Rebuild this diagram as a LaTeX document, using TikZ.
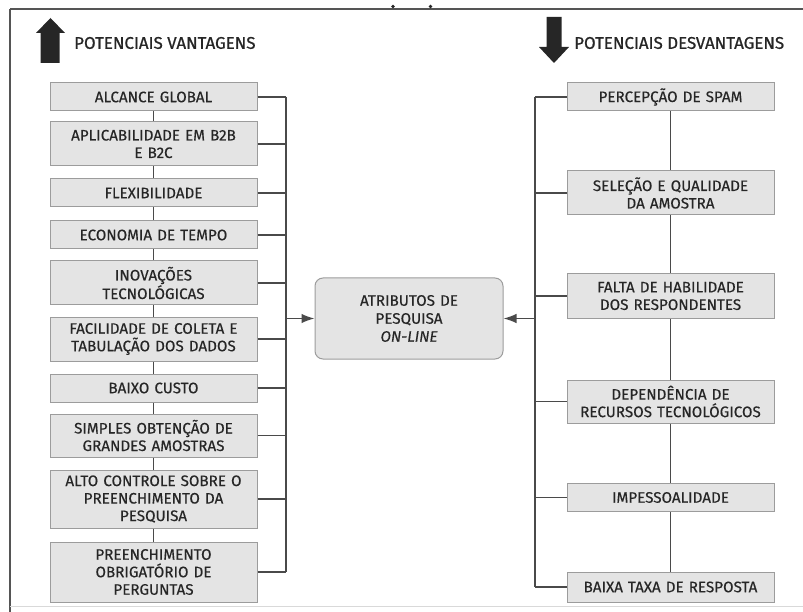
\documentclass[tikz,border=0pt]{standalone}
\usepackage{fontspec}
\setmainfont{Fira Sans}
\newfontfamily\labelfont[FakeBold=0.35]{Fira Sans}
\newfontfamily\headfont[FakeBold=0.9]{Fira Sans}
\usetikzlibrary{arrows.meta}
\definecolor{boxfill}{HTML}{E4E4E4}
\definecolor{boxline}{HTML}{9C9C9C}
\definecolor{ink}{HTML}{262626}
\definecolor{wire}{HTML}{4A4A4A}
\definecolor{frameline}{HTML}{555555}
\begin{document}
\begin{tikzpicture}[x=1pt,y=-1pt,
  item/.style={draw=boxline, fill=boxfill, line width=1pt, minimum width=207pt,
    text width=205pt, align=center, inner sep=0pt, text=ink,
    font=\labelfont\fontsize{15.2}{17.5}\selectfont},
  hub/.style={draw=boxline, fill=boxfill, line width=1pt, rounded corners=8pt,
    minimum width=188pt, minimum height=81pt, text width=184pt, align=center,
    inner sep=0pt, text=ink, font=\labelfont\fontsize{15.2}{18}\selectfont},
  head/.style={anchor=west, inner sep=0pt, text=ink, font=\headfont\fontsize{16.9}{18}\selectfont},
  wire/.style={draw=wire, line width=1.4pt},
  feed/.style={wire, -{Latex[length=13pt,width=9.5pt]}},
  bigarrow/.style={fill=ink, draw=none}]
\useasboundingbox (0,0) rectangle (803,612);

% frame
\draw[frameline, line width=1.8pt] (10,9) -- (803,9);
\draw[frameline, line width=1.4pt] (10,9) -- (10,612);
\draw[black!15, line width=1pt] (10,606.5) -- (803,606.5);
\fill[ink] (393,6.5) circle (1.8pt);
\fill[ink] (430.5,6.5) circle (1.8pt);

% headings
\fill[bigarrow] (36,33) -- (50.5,18) -- (65,33) -- (59.5,33) -- (59.5,63) -- (40.5,63) -- (40.5,33) -- cycle;
\node[head] (hv) at (74,43) {POTENCIAIS VANTAGENS};
\fill[bigarrow] (546.5,17) -- (561.5,17) -- (561.5,47) -- (569,47) -- (554,63) -- (539,47) -- (546.5,47) -- cycle;
\node[head] (hd) at (574,43) {POTENCIAIS DESVANTAGENS};

% advantages
\node[item, minimum height=28pt] (a1) at (153.5,97) {ALCANCE GLOBAL};
\node[item, minimum height=44pt] (a2) at (153.5,144) {APLICABILIDADE EM B2B\\E B2C};
\node[item, minimum height=28pt] (a3) at (153.5,193) {FLEXIBILIDADE};
\node[item, minimum height=28pt] (a4) at (153.5,235) {ECONOMIA DE TEMPO};
\node[item, minimum height=44pt] (a5) at (153.5,283) {INOVAÇÕES\\TECNOLÓGICAS};
\node[item, minimum height=44pt] (a6) at (153.5,339) {FACILIDADE DE COLETA E\\TABULAÇÃO DOS DADOS};
\node[item, minimum height=28pt] (a7) at (153.5,388) {BAIXO CUSTO};
\node[item, minimum height=43pt] (a8) at (153.5,435.5) {SIMPLES OBTENÇÃO DE\\GRANDES AMOSTRAS};
\node[item, minimum height=58pt] (a9) at (153.5,499) {ALTO CONTROLE SOBRE O\\PREENCHIMENTO DA\\PESQUISA};
\node[item, minimum height=60pt] (a10) at (153.5,572) {PREENCHIMENTO\\OBRIGATÓRIO DE\\PERGUNTAS};

% disadvantages
\node[item, minimum height=28pt] (b1) at (670.5,97) {PERCEPÇÃO DE SPAM};
\node[item, minimum height=44pt] (b2) at (670.5,193) {SELEÇÃO E QUALIDADE\\DA AMOSTRA};
\node[item, minimum height=44pt] (b3) at (670.5,296) {FALTA DE HABILIDADE\\DOS RESPONDENTES};
\node[item, minimum height=43pt] (b4) at (670.5,401.5) {DEPENDÊNCIA DE\\RECURSOS TECNOLÓGICOS};
\node[item, minimum height=28pt] (b5) at (670.5,497.5) {IMPESSOALIDADE};
\node[item, minimum height=30pt] (b6) at (670.5,587) {BAIXA TAXA DE RESPOSTA};

% centre
\node[hub] (c) at (409,318.5) {ATRIBUTOS DE\\PESQUISA\\\textit{ON-LINE}};

% chains between stacked boxes
\foreach \i/\j in {a1/a2,a2/a3,a3/a4,a4/a5,a5/a6,a6/a7,a7/a8,a8/a9,a9/a10,
                   b1/b2,b2/b3,b3/b4,b4/b5,b5/b6}
  \draw[wire] (\i.south) -- (\j.north);

% left collector
\coordinate (lt) at (286,97);
\coordinate (lb) at (286,572);
\draw[wire] (lt) -- (lb);
\foreach \n in {a1,a2,a3,a4,a5,a6,a7,a8,a9,a10}
  \draw[wire] (\n.east) -- (\n.east -| lt);
\draw[feed] (lt |- c.west) -- (c.west);

% right collector
\coordinate (rt) at (535,97);
\coordinate (rb) at (535,587);
\draw[wire] (rt) -- (rb);
\foreach \n in {b1,b2,b3,b4,b5,b6}
  \draw[wire] (\n.west) -- (\n.west -| rt);
\draw[feed] (rt |- c.east) -- (c.east);
\end{tikzpicture}
\end{document}
